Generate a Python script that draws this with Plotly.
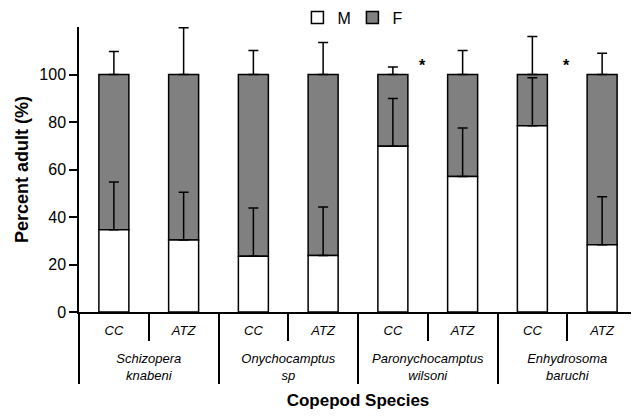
import plotly.graph_objects as go

species_names = ["Schizopera<br>knabeni", "Onychocamptus<br>sp",
                 "Paronychocamptus<br>wilsoni", "Enhydrosoma<br>baruchi"]
treatments = ["CC", "ATZ"]

male_pct = [34.6, 30.3, 23.5, 23.8, 69.8, 57.1, 78.4, 28.3]
male_err = [20.1, 20.1, 20.3, 20.4, 20.1, 20.4, 20.2, 20.2]
female_pct = [100 - m for m in male_pct]
female_err = [9.7, 19.7, 10.1, 13.5, 3.2, 10.1, 16.0, 8.9]

y_ticks = [0, 20, 40, 60, 80, 100]

# hierarchical category axis (outer: species, inner: treatment);
# leading <br> leaves room for the inner row, as in the reference
outer = ["<br>" + s for s in species_names for _ in treatments]
inner = [t for _ in species_names for t in treatments]

FONT = "Liberation Sans, Arial, sans-serif"

fig = go.Figure()
# F drawn first (stacked on top of M via base) so that M's error bars stay visible
fig.add_trace(go.Bar(
    x=[outer, inner], y=female_pct, base=male_pct, name="F",
    marker=dict(color="#808080", line=dict(color="black", width=1.5)),
    error_y=dict(type="data", array=female_err, arrayminus=[0] * len(female_err),
                 symmetric=False, color="black", thickness=1.5, width=5),
    width=0.43,
))
fig.add_trace(go.Bar(
    x=[outer, inner], y=male_pct, name="M",
    marker=dict(color="white", line=dict(color="black", width=1.5)),
    error_y=dict(type="data", array=male_err, arrayminus=[0] * len(male_err),
                 symmetric=False, color="black", thickness=1.5, width=5),
    width=0.43,
))

fig.add_annotation(x=4.42, y=104, text="<b>*</b>", showarrow=False,
                   font=dict(size=16, color="black", family=FONT), yanchor="middle")
fig.add_annotation(x=6.49, y=104, text="<b>*</b>", showarrow=False,
                   font=dict(size=16, color="black", family=FONT), yanchor="middle")

fig.update_layout(
    width=639, height=420,
    barmode="overlay",
    paper_bgcolor="white", plot_bgcolor="white",
    margin=dict(l=71, r=10, t=19, b=116, autoexpand=False),
    font=dict(family=FONT, color="black", size=16),
    legend=dict(orientation="h", x=0.49, xanchor="center", y=0.977, yanchor="middle",
                yref="container", font=dict(size=16), traceorder="reversed",
                itemwidth=30, entrywidth=10, entrywidthmode="pixels"),
    xaxis=dict(
        type="multicategory", automargin=False,
        showline=True, linecolor="black", linewidth=1.5,
        ticks="outside", ticklen=27, tickcolor="black", tickwidth=1.5,
        tickfont=dict(size=13, style="italic", family=FONT),
        ticklabelstandoff=6,
        showdividers=True, dividercolor="black", dividerwidth=1.5,
        showgrid=False,
        title=dict(text="<b>Copepod Species</b>", font=dict(size=17), standoff=12),
    ),
    yaxis=dict(
        range=[0, 120], tickvals=y_ticks, automargin=False,
        showline=True, linecolor="black", linewidth=1.5,
        ticks="outside", ticklen=8, tickcolor="black", tickwidth=1.5,
        tickfont=dict(size=16), showgrid=False, zeroline=False,
        title=dict(text="<b>Percent adult (%)</b>", font=dict(size=18), standoff=6),
    ),
)

fig.write_html("out.html")
